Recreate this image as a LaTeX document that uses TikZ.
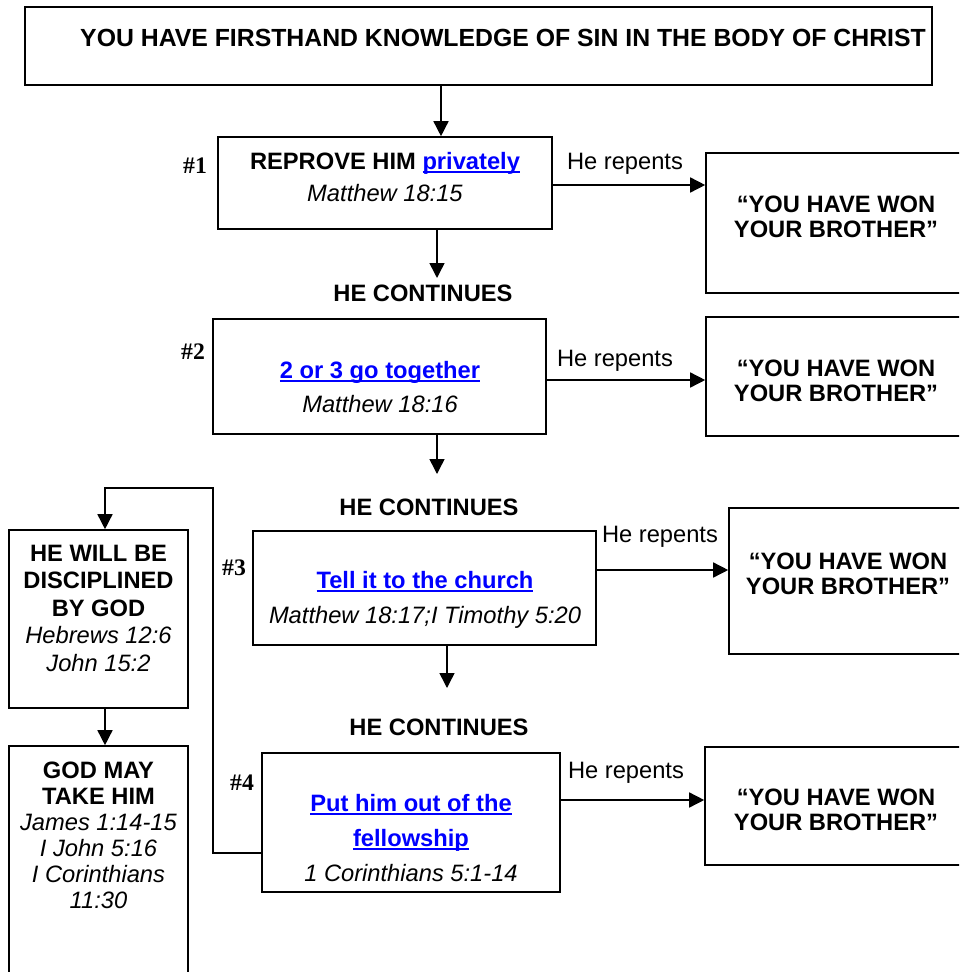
\documentclass[tikz,border=0pt]{standalone}
\usepackage{fontspec}
\setmainfont{Liberation Sans}
\newfontfamily\numfont{Liberation Serif}
\usetikzlibrary{arrows.meta}
\definecolor{linkblue}{RGB}{0,0,255}
\newcommand\lnk[1]{\textcolor{linkblue}{\setbox0\hbox{#1}\rlap{\rule[-3.5pt]{\wd0}{2pt}}\box0}}
\begin{document}
\begin{tikzpicture}[x=1pt,y=-1pt,
  box/.style={draw, rectangle, inner sep=0pt, line width=1.6pt},
  txt/.style={align=center, inner sep=0pt, font=\fontsize{23.7}{26}\selectfont},
  num/.style={inner sep=0pt, font=\numfont\bfseries\fontsize{23.7}{26}\selectfont},
  arr/.style={-{Triangle[length=15pt,width=15pt]}, line width=1.5pt},
  ln/.style={line width=1.5pt}]
\clip (0,0) rectangle (959,972);
\fill[white] (0,0) rectangle (959,972);

% top box
\node[box, minimum width=907pt, minimum height=78pt] (top) at (478.5,46) {};
\node[txt, font=\bfseries\fontsize{24.8}{26}\selectfont] (toptxt) at (503,38) {YOU HAVE FIRSTHAND KNOWLEDGE OF SIN IN THE BODY OF CHRIST};

% step 1
\node[box, minimum width=334pt, minimum height=92pt] (b1) at (385,183) {};
\node[txt, font=\fontsize{23.7}{32}\selectfont] (b1t) at (385,177) {\textbf{REPROVE HIM \lnk{privately}}\\ \textit{Matthew 18:15}};
\node[num] (n1) at (195,166) {\#1};
\node[box, minimum width=256pt, minimum height=140pt] (w1) at (834,223) {};
\node[txt, font=\bfseries\fontsize{23.7}{25}\selectfont] (w1t) at (836,217) {“YOU HAVE WON\\ YOUR BROTHER”};
\node[txt] (r1) at (625,164) {He repents};
\coordinate (y1) at (0,185);
\draw[arr] (b1.east |- y1) -- (w1.west |- y1);
\node[txt, font=\bfseries\fontsize{23.7}{26}\selectfont] (c1) at (423,293) {HE CONTINUES};
\coordinate (a0) at (441,0);
\draw[arr] (top.south -| a0) -- (b1.north -| a0);
\coordinate (t1) at (437,278);
\draw[arr] (b1.south -| t1) -- (t1);

% step 2
\node[box, minimum width=333pt, minimum height=115pt] (b2) at (379.5,376.5) {};
\node[txt, font=\fontsize{23.7}{34}\selectfont] (b2t) at (380,387) {\textbf{\lnk{2 or 3 go together}}\\ \textit{Matthew 18:16}};
\node[num] (n2) at (193,352) {\#2};
\node[box, minimum width=256pt, minimum height=119pt] (w2) at (834,376.5) {};
\node[txt, font=\bfseries\fontsize{23.7}{25}\selectfont] (w2t) at (836,381) {“YOU HAVE WON\\ YOUR BROTHER”};
\node[txt] (r2) at (615,361) {He repents};
\coordinate (y2) at (0,380);
\draw[arr] (b2.east |- y2) -- (w2.west |- y2);
\node[txt, font=\bfseries\fontsize{23.7}{26}\selectfont] (c2) at (429,507) {HE CONTINUES};
\coordinate (t2) at (437,474);
\draw[arr] (b2.south -| t2) -- (t2);

% step 3
\node[box, minimum width=343pt, minimum height=114pt] (b3) at (424.5,588) {};
\node[txt, font=\fontsize{23.7}{35}\selectfont] (b3t) at (425,600) {\textbf{\lnk{Tell it to the church}}\\ \textit{Matthew 18:17;I Timothy 5:20}};
\node[num] (n3) at (234,568) {\#3};
\node[box, minimum width=233pt, minimum height=146pt] (w3) at (845.5,581) {};
\node[txt, font=\bfseries\fontsize{23.7}{25}\selectfont] (w3t) at (848,574) {“YOU HAVE WON\\ YOUR BROTHER”};
\node[txt] (r3) at (660,537) {He repents};
\coordinate (y3) at (0,570);
\draw[arr] (b3.east |- y3) -- (w3.west |- y3);
\node[txt, font=\bfseries\fontsize{23.7}{26}\selectfont] (c3) at (439,727) {HE CONTINUES};
\coordinate (t3) at (447,688);
\draw[arr] (b3.south -| t3) -- (t3);

% step 4
\node[box, minimum width=298pt, minimum height=139pt] (b4) at (411,822.5) {};
\node[txt, font=\fontsize{23.7}{35}\selectfont] (b4t) at (411,838) {\textbf{\lnk{Put him out of the}}\\ \textbf{\lnk{fellowship}}\\ \textit{1 Corinthians 5:1-14}};
\node[num] (n4) at (242,783) {\#4};
\node[box, minimum width=257pt, minimum height=118pt] (w4) at (833.5,806) {};
\node[txt, font=\bfseries\fontsize{23.7}{25}\selectfont] (w4t) at (836,810) {“YOU HAVE WON\\ YOUR BROTHER”};
\node[txt] (r4) at (626,773) {He repents};
\coordinate (y4) at (0,800);
\draw[arr] (b4.east |- y4) -- (w4.west |- y4);

% left column
\node[box, minimum width=179pt, minimum height=178pt] (L1) at (98.5,619) {};
\node[txt, font=\fontsize{23.7}{27.5}\selectfont] (L1t) at (98.5,608) {\textbf{HE WILL BE}\\ \textbf{DISCIPLINED}\\ \textbf{BY GOD}\\ \textit{Hebrews 12:6}\\ \textit{John 15:2}};
\node[box, minimum width=179pt, minimum height=254pt] (L2) at (98.5,873) {};
\node[txt, font=\fontsize{23.7}{26}\selectfont] (L2t) at (98.5,835) {\textbf{GOD MAY}\\ \textbf{TAKE HIM}\\ \textit{James 1:14-15}\\ \textit{I John 5:16}\\ \textit{I Corinthians}\\ \textit{11:30}};
\coordinate (lx) at (105,0);
\draw[arr] (L1.south -| lx) -- (L2.north -| lx);

% feedback connector
\coordinate (fa) at (213,853);
\coordinate (fb) at (213,488);
\draw[arr] (b4.west |- fa) -- (fa) -- (fb) -- (fb -| lx) -- (L1.north -| lx);
\end{tikzpicture}
\end{document}
